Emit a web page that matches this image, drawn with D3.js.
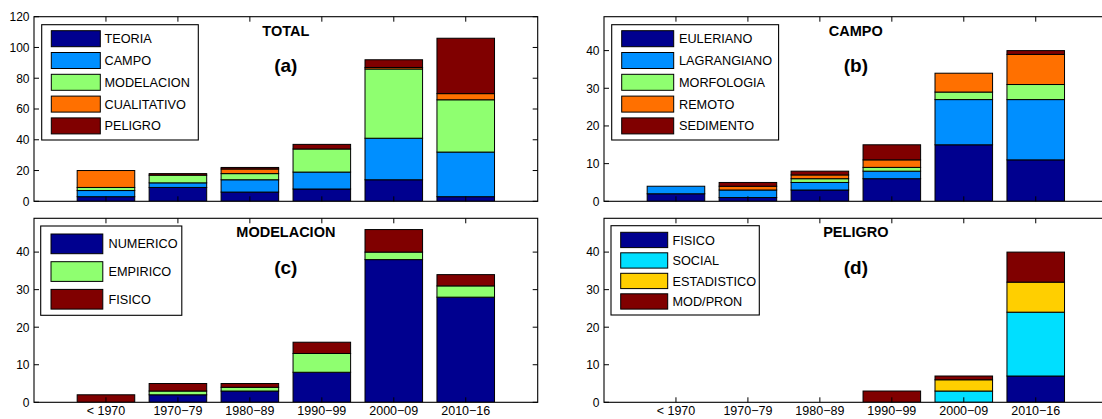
<!DOCTYPE html>
<html>
<head>
<meta charset="utf-8">
<script src="https://cdn.jsdelivr.net/npm/d3@7"></script>
<style>
  html, body { margin: 0; padding: 0; background: #fff; }
  svg { display: block; font-family: "Liberation Sans", Arial, Helvetica, sans-serif; }
</style>
</head>
<body>
<svg id="chart" width="1102" height="419"></svg>
<script>
// Decades shown on every panel
const categories = ["< 1970", "1970\u221279", "1980\u221289", "1990\u221299", "2000\u221209", "2010\u221216"];

// (a) TOTAL
const totalNames = ["TEORIA", "CAMPO", "MODELACION", "CUALITATIVO", "PELIGRO"];
const totalTeoria      = [3, 9, 6, 8, 14, 3];
const totalCampo       = [4, 3, 8, 11, 27, 29];
const totalModelacion  = [2, 5, 4, 15, 45, 34];
const totalCualitativo = [11, 0, 3, 0, 1, 4];
const totalPeligro     = [0, 1, 1, 3, 5, 36];

// (b) CAMPO
const campoNames = ["EULERIANO", "LAGRANGIANO", "MORFOLOGIA", "REMOTO", "SEDIMENTO"];
const campoEuleriano   = [2, 1, 3, 6, 15, 11];
const campoLagrangiano = [2, 2, 2, 2, 12, 16];
const campoMorfologia  = [0, 0, 1, 1, 2, 4];
const campoRemoto      = [0, 1, 1, 2, 5, 8];
const campoSedimento   = [0, 1, 1, 4, 0, 1];

// (c) MODELACION
const modelNames = ["NUMERICO", "EMPIRICO", "FISICO"];
const modelNumerico = [0, 2, 3, 8, 38, 28];
const modelEmpirico = [0, 1, 1, 5, 2, 3];
const modelFisico   = [2, 2, 1, 3, 6, 3];

// (d) PELIGRO
const peligroNames = ["FISICO", "SOCIAL", "ESTADISTICO", "MOD/PRON"];
const peligroFisico      = [0, 0, 0, 0, 0, 7];
const peligroSocial      = [0, 0, 0, 0, 3, 17];
const peligroEstadistico = [0, 0, 0, 0, 3, 8];
const peligroModPron     = [0, 0, 0, 3, 1, 8];

// Y tick values
const ticksTotal = [0, 20, 40, 60, 80, 100, 120];
const ticksSub   = [0, 10, 20, 30, 40];

// Palette
const C = {
  navy: "#00008F", blue: "#008FFF", green: "#8FFF70", orange: "#FF7000",
  darkred: "#800000", cyan: "#00DFFF", yellow: "#FFCF00"
};

const panels = [
  {
    title: "TOTAL", tag: "(a)", left: 34, top: 16.7, bottom: 201.3, ymax: 120, ticks: ticksTotal,
    xLabels: false,
    names: totalNames,
    series: [totalTeoria, totalCampo, totalModelacion, totalCualitativo, totalPeligro],
    colors: [C.navy, C.blue, C.green, C.orange, C.darkred],
    legend: { x: 41.7, y: 24.7, w: 156.6, h: 115.3, sx: 51.3, sw: 49, sh: 16, sy: 30.7, step: 21.8, tx: 104.5 }
  },
  {
    title: "CAMPO", tag: "(b)", left: 604, top: 16.7, bottom: 201.3, ymax: 49, ticks: ticksSub,
    xLabels: false,
    names: campoNames,
    series: [campoEuleriano, campoLagrangiano, campoMorfologia, campoRemoto, campoSedimento],
    colors: [C.navy, C.blue, C.green, C.orange, C.darkred],
    legend: { x: 611.7, y: 24.7, w: 166.9, h: 115.3, sx: 621.7, sw: 52, sh: 16, sy: 30.7, step: 21.8, tx: 679 }
  },
  {
    title: "MODELACION", tag: "(c)", left: 34, top: 218.3, bottom: 402.3, ymax: 49, ticks: ticksSub,
    xLabels: true,
    names: modelNames,
    series: [modelNumerico, modelEmpirico, modelFisico],
    colors: [C.navy, C.green, C.darkred],
    legend: { x: 40.7, y: 226, w: 141.1, h: 89.3, sx: 51, sw: 51.8, sh: 19.7, sy: 234, step: 27.7, tx: 108.5 }
  },
  {
    title: "PELIGRO", tag: "(d)", left: 604, top: 218.3, bottom: 402.3, ymax: 49, ticks: ticksSub,
    xLabels: true,
    names: peligroNames,
    series: [peligroFisico, peligroSocial, peligroEstadistico, peligroModPron],
    colors: [C.navy, C.cyan, C.yellow, C.darkred],
    legend: { x: 611, y: 225.7, w: 148.3, h: 89.3, sx: 620.7, sw: 47, sh: 15.3, sy: 232.3, step: 20.5, tx: 672.5 }
  }
];

const AXIS_W = 503.7;   // plot width of every panel
const TICK = 5;         // inward tick length
const BAR_W = 0.8;      // bar width in category units

const svg = d3.select("#chart");

panels.forEach(p => {
  const g = svg.append("g");
  const x = d3.scaleLinear().domain([0, 7]).range([p.left, p.left + AXIS_W]);
  const y = d3.scaleLinear().domain([0, p.ymax]).range([p.bottom, p.top]);
  const right = p.left + AXIS_W;

  // clip to the axes box
  const clipId = "clip-" + p.tag.replace(/[()]/g, "");
  svg.append("clipPath").attr("id", clipId)
    .append("rect").attr("x", p.left).attr("y", p.top)
    .attr("width", AXIS_W).attr("height", p.bottom - p.top);

  // stacked bars
  const rows = categories.map((c, i) => {
    const r = { cat: i + 1 };
    p.names.forEach((n, k) => { r[n] = p.series[k][i]; });
    return r;
  });
  const stacked = d3.stack().keys(p.names)(rows);

  const barG = g.append("g").attr("clip-path", `url(#${clipId})`);
  stacked.forEach((layer, k) => {
    barG.selectAll(null).data(layer.filter(d => d[1] - d[0] > 0)).join("rect")
      .attr("x", d => x(d.data.cat - BAR_W / 2))
      .attr("width", d => x(d.data.cat + BAR_W / 2) - x(d.data.cat - BAR_W / 2))
      .attr("y", d => y(d[1]))
      .attr("height", d => y(d[0]) - y(d[1]))
      .attr("fill", p.colors[k])
      .attr("stroke", "#000")
      .attr("stroke-width", 1);
  });

  // axes box
  g.append("rect")
    .attr("x", p.left).attr("y", p.top)
    .attr("width", AXIS_W).attr("height", p.bottom - p.top)
    .attr("fill", "none").attr("stroke", "#000").attr("stroke-width", 1.1);

  // y ticks (left and right, inward)
  const ay = g.append("g").attr("stroke", "#000").attr("stroke-width", 1);
  p.ticks.forEach(t => {
    ay.append("line").attr("x1", p.left).attr("x2", p.left + TICK).attr("y1", y(t)).attr("y2", y(t));
    ay.append("line").attr("x1", right).attr("x2", right - TICK).attr("y1", y(t)).attr("y2", y(t));
  });
  g.selectAll(null).data(p.ticks).join("text")
    .attr("x", p.left - 4.5).attr("y", d => y(d)).attr("dy", "0.36em")
    .attr("text-anchor", "end").attr("font-size", 12).attr("fill", "#000")
    .text(d => d);

  // x ticks (bottom and top, inward)
  const xt = d3.range(1, categories.length + 1);
  xt.forEach(t => {
    ay.append("line").attr("x1", x(t)).attr("x2", x(t)).attr("y1", p.bottom).attr("y2", p.bottom - TICK);
    ay.append("line").attr("x1", x(t)).attr("x2", x(t)).attr("y1", p.top).attr("y2", p.top + TICK);
  });
  if (p.xLabels) {
    g.selectAll(null).data(categories).join("text")
      .attr("x", (d, i) => x(i + 1)).attr("y", p.bottom + 13)
      .attr("text-anchor", "middle").attr("font-size", 12.5).attr("fill", "#000")
      .text(d => d);
  }

  // titles
  const cx = (p.left + right) / 2;
  g.append("text").attr("x", cx).attr("y", p.top + 19)
    .attr("text-anchor", "middle").attr("font-size", 14.5).attr("font-weight", "bold")
    .text(p.title);
  g.append("text").attr("x", cx).attr("y", p.top + 55.5)
    .attr("text-anchor", "middle").attr("font-size", 19).attr("font-weight", "bold")
    .text(p.tag);

  // legend
  const L = p.legend;
  const lg = g.append("g");
  lg.append("rect").attr("x", L.x).attr("y", L.y).attr("width", L.w).attr("height", L.h)
    .attr("fill", "#fff").attr("stroke", "#000").attr("stroke-width", 1.1);
  p.names.forEach((n, k) => {
    const yy = L.sy + k * L.step;
    lg.append("rect").attr("x", L.sx).attr("y", yy).attr("width", L.sw).attr("height", L.sh)
      .attr("fill", p.colors[k]).attr("stroke", "#000").attr("stroke-width", 1);
    lg.append("text").attr("x", L.tx).attr("y", yy + L.sh / 2).attr("dy", "0.36em")
      .attr("font-size", 12.7).attr("fill", "#000").text(n);
  });
});
</script>
</body>
</html>
